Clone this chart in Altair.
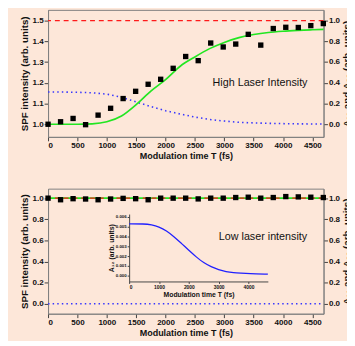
import altair as alt
import pandas as pd

# ---------------- data ----------------
T_MAX = 4690
spf_t = [0, 213, 426, 639, 852, 1065, 1278, 1491, 1704, 1917, 2130, 2343,
         2556, 2769, 2982, 3195, 3408, 3621, 3834, 4047, 4260, 4473, 4686]
spf_high = [1.000, 1.012, 1.028, 0.998, 1.044, 1.077, 1.124, 1.159, 1.193, 1.217,
            1.270, 1.327, 1.307, 1.392, 1.373, 1.387, 1.434, 1.382, 1.462, 1.468,
            1.467, 1.476, 1.486]
spf_low = [1.000, 0.985, 0.995, 0.992, 0.985, 0.992, 0.998, 0.995, 0.985, 1.000,
           1.000, 1.000, 0.993, 1.000, 1.000, 1.006, 1.009, 1.000, 1.006, 1.015,
           1.012, 1.009, 1.006]

fit_t = [0, 250, 500, 750, 1000, 1250, 1500, 1750, 2000, 2250, 2500, 2750,
         3000, 3250, 3500, 3750, 4000, 4250, 4500, 4690]
fit_high = [1.000, 1.000, 1.000, 1.002, 1.012, 1.040, 1.095, 1.160, 1.215, 1.280,
            1.325, 1.365, 1.395, 1.418, 1.433, 1.443, 1.449, 1.453, 1.456, 1.458]
a11_high = [0.310, 0.310, 0.308, 0.303, 0.290, 0.260, 0.215, 0.170, 0.130, 0.098,
            0.068, 0.045, 0.030, 0.018, 0.012, 0.008, 0.005, 0.003, 0.002, 0.001]

low_t = [0, 4690]
fit_low = [1.0, 1.0]
a_low = [0.0, 0.0]
ref_high = [1.5]
ref_low = [1.0]

inset_t = [0, 500, 750, 1000, 1250, 1500, 1750, 2000, 2250, 2500, 2750, 3000,
           3250, 3500, 3750, 4000, 4650]
inset_a12 = [0.0053, 0.0053, 0.0052, 0.0050, 0.0046, 0.0040, 0.0033, 0.0026,
             0.0019, 0.0013, 0.0009, 0.0006, 0.0004, 0.0003, 0.00025, 0.0002, 0.00015]

label_high = ["High Laser Intensity"]
label_high_pos = [3609, 1.198]
label_low = ["Low laser intensity"]
label_low_pos = [3659, 0.627]

# ---------------- style ----------------
BG = "#fde7d9"
SANS = "Liberation Sans, Arial, sans-serif"
GREEN = "#22e622"
RED = "#ff1a1a"
BLUE = "#3636ff"
W = 282

xs = alt.Scale(domain=[0, T_MAX], nice=False, zero=False)
x_axis = alt.Axis(orient="bottom", values=list(range(0, 5000, 500)), format="d",
                  title="Modulation time T (fs)", titleFontSize=9.2,
                  labelFontSize=8.2, labelPadding=1, titlePadding=3)


def panel(ydom_l, ydom_r, yvals_l, spf, fit_tt, fit_v, a_t, a_v, ref, label, label_pos):
    ys_l = alt.Scale(domain=ydom_l, nice=False, zero=False)
    ys_r = alt.Scale(domain=ydom_r, nice=False, zero=False)
    ax_l = alt.Axis(orient="left", values=yvals_l, format=".1f",
                    title="SPF intensity (arb. units)", titleFontSize=10,
                    labelFontSize=8.2, titlePadding=3)
    ax_r = alt.Axis(orient="right", values=[0, 0.2, 0.4, 0.6, 0.8, 1.0], format=".1f",
                    title="A₁₁ and A₂₂ (arb. units)", titleFontSize=10,
                    titleAngle=270, titleBaseline="top", labelFontSize=8.2, titlePadding=2)

    def X(f):
        return alt.X(f, type="quantitative", scale=xs, axis=x_axis)

    def YL(f):
        return alt.Y(f, type="quantitative", scale=ys_l, axis=ax_l)

    df_sq = pd.DataFrame({"t": spf_t, "v": spf})
    df_fit = pd.DataFrame({"t": fit_tt, "v": fit_v})
    df_a = pd.DataFrame({"t": a_t, "a": a_v})
    df_ref = pd.DataFrame({"v": ref})
    df_lab = pd.DataFrame({"t": [label_pos[0]], "v": [label_pos[1]], "s": label})

    blue = alt.Chart(df_a).mark_line(color=BLUE, strokeDash=[1.5, 3.2], strokeWidth=1.6).encode(
        x=X("t"), y=alt.Y("a:Q", scale=ys_r, axis=ax_r))
    green = alt.Chart(df_fit).mark_line(color=GREEN, strokeWidth=1.7, interpolate="monotone").encode(
        x=X("t"), y=YL("v"))
    red = alt.Chart(df_ref).mark_rule(color=RED, strokeDash=[5, 4], strokeWidth=1.4).encode(
        y=YL("v"))
    sq = alt.Chart(df_sq).mark_square(size=30, color="black", opacity=1).encode(
        x=X("t"), y=YL("v"))
    txt = alt.Chart(df_lab).mark_text(font=SANS, fontSize=11, color="#111111").encode(
        x=X("t"), y=YL("v"), text="s:N")
    return alt.layer(blue, alt.layer(green, red, sq, txt)).resolve_scale(y="independent")


top = panel([0.939, 1.552], [-0.123, 1.104], [1.0, 1.1, 1.2, 1.3, 1.4, 1.5],
            spf_high, fit_t, fit_high, fit_t, a11_high, ref_high,
            label_high, label_high_pos).properties(width=W, height=130)

bottom_main = panel([-0.095, 1.090], [-0.095, 1.090], [0.0, 0.2, 0.4, 0.6, 0.8, 1.0],
                    spf_low, low_t, fit_low, low_t, a_low, ref_low,
                    label_low, label_low_pos)

df_in = pd.DataFrame({"t": inset_t, "a": inset_a12})
inset = alt.Chart(df_in).mark_line(color="#2020ff", strokeWidth=1.3, interpolate="basis").encode(
    x=alt.X("t:Q", scale=alt.Scale(domain=[0, 4650], range=[83, 225], nice=False, zero=False),
            axis=alt.Axis(orient="bottom", offset=-33, values=[0, 1000, 2000, 3000, 4000],
                          format="d", title="Modulation time T (fs)", titleFontSize=7,
                          labelFontSize=5, tickSize=2, labelPadding=1,
                          titlePadding=1, domainColor="#444444")),
    y=alt.Y("a:Q", scale=alt.Scale(domain=[-0.0006, 0.0063], range=[95, 26], nice=False, zero=False),
            axis=alt.Axis(orient="left", offset=-83,
                          values=[0, 0.001, 0.002, 0.003, 0.004, 0.005, 0.006], format=".3f",
                          title="A₁₂ (arb. units)", titleFontSize=7,
                          labelFontSize=4.5, tickSize=2, labelPadding=1,
                          titlePadding=1, domainColor="#444444")),
)

bottom = alt.layer(bottom_main, inset).resolve_scale(
    x="independent", y="independent").properties(width=W, height=128)

chart = alt.vconcat(top, bottom, spacing=53, bounds="flush").configure(
    background=BG, padding={"left": 11, "top": -3, "right": -5, "bottom": -1}
).configure_view(stroke="#808080", strokeWidth=1).configure_axis(
    grid=False, domainColor="#808080", tickColor="#404040", labelColor="#111111",
    titleColor="#111111", labelFont=SANS, titleFont=SANS,
    labelFontWeight="bold", titleFontWeight="bold", tickSize=4, labelPadding=1
)

chart.save("out.html", embed_options={"renderer": "svg", "actions": False})
